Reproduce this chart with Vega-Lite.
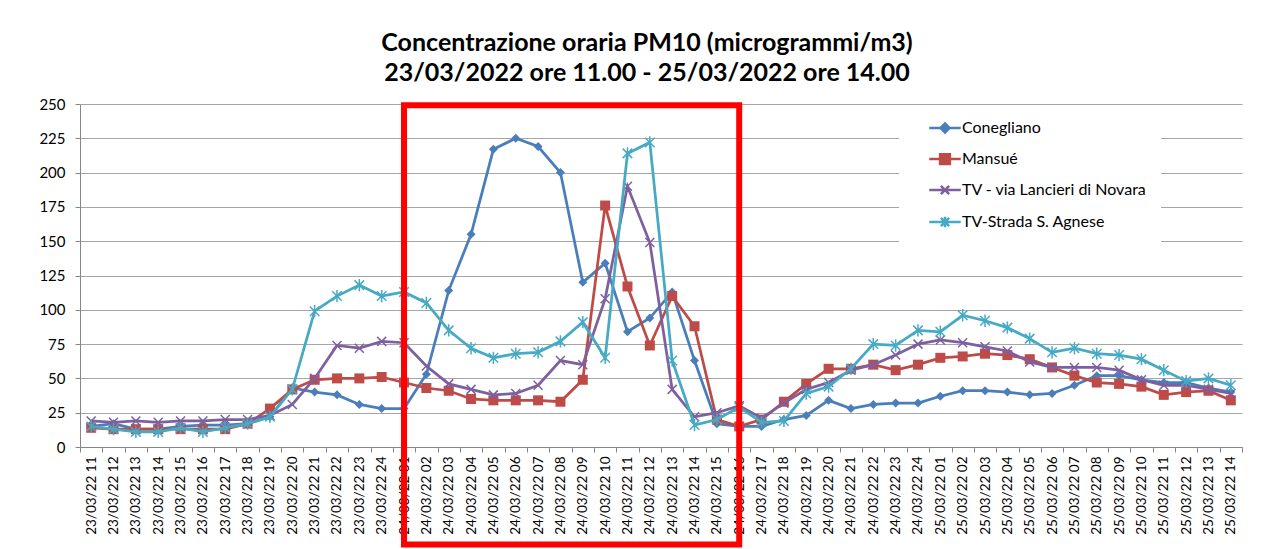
{
  "$schema": "https://vega.github.io/schema/vega-lite/v6.json",
  "width": 1162,
  "height": 343,
  "autosize": "none",
  "padding": {"left": 80, "top": 104, "right": 37, "bottom": 102},
  "background": "white",
  "title": {
    "text": ["Concentrazione oraria PM10 (microgrammi/m3)", "23/03/2022 ore 11.00 - 25/03/2022 ore 14.00"],
    "font": "Lato",
    "fontSize": 25,
    "fontWeight": "bold",
    "color": "black",
    "anchor": "middle",
    "frame": "group",
    "offset": 7,
    "lineHeight": 30,
    "dx": -14
  },
  "config": {
    "view": {"stroke": null},
    "axis": {"labelFont": "Lato", "labelColor": "black", "domainColor": "#868686", "tickColor": "#868686", "title": null}
  },
  "datasets": {
    "pm": [
      {"t":"23/03/22 11","s":"Conegliano","v":15},{"t":"23/03/22 11","s":"Mansué","v":14},{"t":"23/03/22 11","s":"TV - via Lancieri di Novara","v":19},{"t":"23/03/22 11","s":"TV-Strada S. Agnese","v":15},
      {"t":"23/03/22 12","s":"Conegliano","v":17},{"t":"23/03/22 12","s":"Mansué","v":13},{"t":"23/03/22 12","s":"TV - via Lancieri di Novara","v":18},{"t":"23/03/22 12","s":"TV-Strada S. Agnese","v":13},
      {"t":"23/03/22 13","s":"Conegliano","v":13},{"t":"23/03/22 13","s":"Mansué","v":13},{"t":"23/03/22 13","s":"TV - via Lancieri di Novara","v":19},{"t":"23/03/22 13","s":"TV-Strada S. Agnese","v":11},
      {"t":"23/03/22 14","s":"Conegliano","v":13},{"t":"23/03/22 14","s":"Mansué","v":13},{"t":"23/03/22 14","s":"TV - via Lancieri di Novara","v":18},{"t":"23/03/22 14","s":"TV-Strada S. Agnese","v":11},
      {"t":"23/03/22 15","s":"Conegliano","v":15},{"t":"23/03/22 15","s":"Mansué","v":13},{"t":"23/03/22 15","s":"TV - via Lancieri di Novara","v":19},{"t":"23/03/22 15","s":"TV-Strada S. Agnese","v":14},
      {"t":"23/03/22 16","s":"Conegliano","v":16},{"t":"23/03/22 16","s":"Mansué","v":13},{"t":"23/03/22 16","s":"TV - via Lancieri di Novara","v":19},{"t":"23/03/22 16","s":"TV-Strada S. Agnese","v":11},
      {"t":"23/03/22 17","s":"Conegliano","v":16},{"t":"23/03/22 17","s":"Mansué","v":13},{"t":"23/03/22 17","s":"TV - via Lancieri di Novara","v":20},{"t":"23/03/22 17","s":"TV-Strada S. Agnese","v":14},
      {"t":"23/03/22 18","s":"Conegliano","v":17},{"t":"23/03/22 18","s":"Mansué","v":17},{"t":"23/03/22 18","s":"TV - via Lancieri di Novara","v":20},{"t":"23/03/22 18","s":"TV-Strada S. Agnese","v":17},
      {"t":"23/03/22 19","s":"Conegliano","v":22},{"t":"23/03/22 19","s":"Mansué","v":28},{"t":"23/03/22 19","s":"TV - via Lancieri di Novara","v":23},{"t":"23/03/22 19","s":"TV-Strada S. Agnese","v":22},
      {"t":"23/03/22 20","s":"Conegliano","v":43},{"t":"23/03/22 20","s":"Mansué","v":42},{"t":"23/03/22 20","s":"TV - via Lancieri di Novara","v":31},{"t":"23/03/22 20","s":"TV-Strada S. Agnese","v":42},
      {"t":"23/03/22 21","s":"Conegliano","v":40},{"t":"23/03/22 21","s":"Mansué","v":49},{"t":"23/03/22 21","s":"TV - via Lancieri di Novara","v":50},{"t":"23/03/22 21","s":"TV-Strada S. Agnese","v":99},
      {"t":"23/03/22 22","s":"Conegliano","v":38},{"t":"23/03/22 22","s":"Mansué","v":50},{"t":"23/03/22 22","s":"TV - via Lancieri di Novara","v":74},{"t":"23/03/22 22","s":"TV-Strada S. Agnese","v":110},
      {"t":"23/03/22 23","s":"Conegliano","v":31},{"t":"23/03/22 23","s":"Mansué","v":50},{"t":"23/03/22 23","s":"TV - via Lancieri di Novara","v":72},{"t":"23/03/22 23","s":"TV-Strada S. Agnese","v":118},
      {"t":"23/03/22 24","s":"Conegliano","v":28},{"t":"23/03/22 24","s":"Mansué","v":51},{"t":"23/03/22 24","s":"TV - via Lancieri di Novara","v":77},{"t":"23/03/22 24","s":"TV-Strada S. Agnese","v":110},
      {"t":"24/03/22 01","s":"Conegliano","v":28},{"t":"24/03/22 01","s":"Mansué","v":47},{"t":"24/03/22 01","s":"TV - via Lancieri di Novara","v":76},{"t":"24/03/22 01","s":"TV-Strada S. Agnese","v":113},
      {"t":"24/03/22 02","s":"Conegliano","v":53},{"t":"24/03/22 02","s":"Mansué","v":43},{"t":"24/03/22 02","s":"TV - via Lancieri di Novara","v":59},{"t":"24/03/22 02","s":"TV-Strada S. Agnese","v":105},
      {"t":"24/03/22 03","s":"Conegliano","v":114},{"t":"24/03/22 03","s":"Mansué","v":41},{"t":"24/03/22 03","s":"TV - via Lancieri di Novara","v":46},{"t":"24/03/22 03","s":"TV-Strada S. Agnese","v":85},
      {"t":"24/03/22 04","s":"Conegliano","v":155},{"t":"24/03/22 04","s":"Mansué","v":35},{"t":"24/03/22 04","s":"TV - via Lancieri di Novara","v":42},{"t":"24/03/22 04","s":"TV-Strada S. Agnese","v":72},
      {"t":"24/03/22 05","s":"Conegliano","v":217},{"t":"24/03/22 05","s":"Mansué","v":34},{"t":"24/03/22 05","s":"TV - via Lancieri di Novara","v":38},{"t":"24/03/22 05","s":"TV-Strada S. Agnese","v":65},
      {"t":"24/03/22 06","s":"Conegliano","v":225},{"t":"24/03/22 06","s":"Mansué","v":34},{"t":"24/03/22 06","s":"TV - via Lancieri di Novara","v":39},{"t":"24/03/22 06","s":"TV-Strada S. Agnese","v":68},
      {"t":"24/03/22 07","s":"Conegliano","v":219},{"t":"24/03/22 07","s":"Mansué","v":34},{"t":"24/03/22 07","s":"TV - via Lancieri di Novara","v":45},{"t":"24/03/22 07","s":"TV-Strada S. Agnese","v":69},
      {"t":"24/03/22 08","s":"Conegliano","v":200},{"t":"24/03/22 08","s":"Mansué","v":33},{"t":"24/03/22 08","s":"TV - via Lancieri di Novara","v":63},{"t":"24/03/22 08","s":"TV-Strada S. Agnese","v":77},
      {"t":"24/03/22 09","s":"Conegliano","v":120},{"t":"24/03/22 09","s":"Mansué","v":49},{"t":"24/03/22 09","s":"TV - via Lancieri di Novara","v":60},{"t":"24/03/22 09","s":"TV-Strada S. Agnese","v":91},
      {"t":"24/03/22 10","s":"Conegliano","v":134},{"t":"24/03/22 10","s":"Mansué","v":176},{"t":"24/03/22 10","s":"TV - via Lancieri di Novara","v":108},{"t":"24/03/22 10","s":"TV-Strada S. Agnese","v":65},
      {"t":"24/03/22 11","s":"Conegliano","v":84},{"t":"24/03/22 11","s":"Mansué","v":117},{"t":"24/03/22 11","s":"TV - via Lancieri di Novara","v":190},{"t":"24/03/22 11","s":"TV-Strada S. Agnese","v":214},
      {"t":"24/03/22 12","s":"Conegliano","v":94},{"t":"24/03/22 12","s":"Mansué","v":74},{"t":"24/03/22 12","s":"TV - via Lancieri di Novara","v":149},{"t":"24/03/22 12","s":"TV-Strada S. Agnese","v":222},
      {"t":"24/03/22 13","s":"Conegliano","v":113},{"t":"24/03/22 13","s":"Mansué","v":110},{"t":"24/03/22 13","s":"TV - via Lancieri di Novara","v":42},{"t":"24/03/22 13","s":"TV-Strada S. Agnese","v":63},
      {"t":"24/03/22 14","s":"Conegliano","v":63},{"t":"24/03/22 14","s":"Mansué","v":88},{"t":"24/03/22 14","s":"TV - via Lancieri di Novara","v":22},{"t":"24/03/22 14","s":"TV-Strada S. Agnese","v":16},
      {"t":"24/03/22 15","s":"Conegliano","v":17},{"t":"24/03/22 15","s":"Mansué","v":20},{"t":"24/03/22 15","s":"TV - via Lancieri di Novara","v":25},{"t":"24/03/22 15","s":"TV-Strada S. Agnese","v":20},
      {"t":"24/03/22 16","s":"Conegliano","v":15},{"t":"24/03/22 16","s":"Mansué","v":15},{"t":"24/03/22 16","s":"TV - via Lancieri di Novara","v":30},{"t":"24/03/22 16","s":"TV-Strada S. Agnese","v":29},
      {"t":"24/03/22 17","s":"Conegliano","v":15},{"t":"24/03/22 17","s":"Mansué","v":20},{"t":"24/03/22 17","s":"TV - via Lancieri di Novara","v":21},{"t":"24/03/22 17","s":"TV-Strada S. Agnese","v":18},
      {"t":"24/03/22 18","s":"Conegliano","v":20},{"t":"24/03/22 18","s":"Mansué","v":33},{"t":"24/03/22 18","s":"TV - via Lancieri di Novara","v":32},{"t":"24/03/22 18","s":"TV-Strada S. Agnese","v":19},
      {"t":"24/03/22 19","s":"Conegliano","v":23},{"t":"24/03/22 19","s":"Mansué","v":46},{"t":"24/03/22 19","s":"TV - via Lancieri di Novara","v":42},{"t":"24/03/22 19","s":"TV-Strada S. Agnese","v":39},
      {"t":"24/03/22 20","s":"Conegliano","v":34},{"t":"24/03/22 20","s":"Mansué","v":57},{"t":"24/03/22 20","s":"TV - via Lancieri di Novara","v":47},{"t":"24/03/22 20","s":"TV-Strada S. Agnese","v":44},
      {"t":"24/03/22 21","s":"Conegliano","v":28},{"t":"24/03/22 21","s":"Mansué","v":57},{"t":"24/03/22 21","s":"TV - via Lancieri di Novara","v":56},{"t":"24/03/22 21","s":"TV-Strada S. Agnese","v":57},
      {"t":"24/03/22 22","s":"Conegliano","v":31},{"t":"24/03/22 22","s":"Mansué","v":60},{"t":"24/03/22 22","s":"TV - via Lancieri di Novara","v":60},{"t":"24/03/22 22","s":"TV-Strada S. Agnese","v":75},
      {"t":"24/03/22 23","s":"Conegliano","v":32},{"t":"24/03/22 23","s":"Mansué","v":56},{"t":"24/03/22 23","s":"TV - via Lancieri di Novara","v":67},{"t":"24/03/22 23","s":"TV-Strada S. Agnese","v":74},
      {"t":"24/03/22 24","s":"Conegliano","v":32},{"t":"24/03/22 24","s":"Mansué","v":60},{"t":"24/03/22 24","s":"TV - via Lancieri di Novara","v":75},{"t":"24/03/22 24","s":"TV-Strada S. Agnese","v":85},
      {"t":"25/03/22 01","s":"Conegliano","v":37},{"t":"25/03/22 01","s":"Mansué","v":65},{"t":"25/03/22 01","s":"TV - via Lancieri di Novara","v":78},{"t":"25/03/22 01","s":"TV-Strada S. Agnese","v":84},
      {"t":"25/03/22 02","s":"Conegliano","v":41},{"t":"25/03/22 02","s":"Mansué","v":66},{"t":"25/03/22 02","s":"TV - via Lancieri di Novara","v":76},{"t":"25/03/22 02","s":"TV-Strada S. Agnese","v":96},
      {"t":"25/03/22 03","s":"Conegliano","v":41},{"t":"25/03/22 03","s":"Mansué","v":68},{"t":"25/03/22 03","s":"TV - via Lancieri di Novara","v":73},{"t":"25/03/22 03","s":"TV-Strada S. Agnese","v":92},
      {"t":"25/03/22 04","s":"Conegliano","v":40},{"t":"25/03/22 04","s":"Mansué","v":67},{"t":"25/03/22 04","s":"TV - via Lancieri di Novara","v":70},{"t":"25/03/22 04","s":"TV-Strada S. Agnese","v":87},
      {"t":"25/03/22 05","s":"Conegliano","v":38},{"t":"25/03/22 05","s":"Mansué","v":64},{"t":"25/03/22 05","s":"TV - via Lancieri di Novara","v":62},{"t":"25/03/22 05","s":"TV-Strada S. Agnese","v":79},
      {"t":"25/03/22 06","s":"Conegliano","v":39},{"t":"25/03/22 06","s":"Mansué","v":58},{"t":"25/03/22 06","s":"TV - via Lancieri di Novara","v":58},{"t":"25/03/22 06","s":"TV-Strada S. Agnese","v":69},
      {"t":"25/03/22 07","s":"Conegliano","v":45},{"t":"25/03/22 07","s":"Mansué","v":52},{"t":"25/03/22 07","s":"TV - via Lancieri di Novara","v":58},{"t":"25/03/22 07","s":"TV-Strada S. Agnese","v":72},
      {"t":"25/03/22 08","s":"Conegliano","v":52},{"t":"25/03/22 08","s":"Mansué","v":47},{"t":"25/03/22 08","s":"TV - via Lancieri di Novara","v":58},{"t":"25/03/22 08","s":"TV-Strada S. Agnese","v":68},
      {"t":"25/03/22 09","s":"Conegliano","v":52},{"t":"25/03/22 09","s":"Mansué","v":46},{"t":"25/03/22 09","s":"TV - via Lancieri di Novara","v":56},{"t":"25/03/22 09","s":"TV-Strada S. Agnese","v":67},
      {"t":"25/03/22 10","s":"Conegliano","v":49},{"t":"25/03/22 10","s":"Mansué","v":44},{"t":"25/03/22 10","s":"TV - via Lancieri di Novara","v":49},{"t":"25/03/22 10","s":"TV-Strada S. Agnese","v":64},
      {"t":"25/03/22 11","s":"Conegliano","v":47},{"t":"25/03/22 11","s":"Mansué","v":38},{"t":"25/03/22 11","s":"TV - via Lancieri di Novara","v":45},{"t":"25/03/22 11","s":"TV-Strada S. Agnese","v":56},
      {"t":"25/03/22 12","s":"Conegliano","v":47},{"t":"25/03/22 12","s":"Mansué","v":40},{"t":"25/03/22 12","s":"TV - via Lancieri di Novara","v":45},{"t":"25/03/22 12","s":"TV-Strada S. Agnese","v":48},
      {"t":"25/03/22 13","s":"Conegliano","v":43},{"t":"25/03/22 13","s":"Mansué","v":41},{"t":"25/03/22 13","s":"TV - via Lancieri di Novara","v":42},{"t":"25/03/22 13","s":"TV-Strada S. Agnese","v":50},
      {"t":"25/03/22 14","s":"Conegliano","v":40},{"t":"25/03/22 14","s":"Mansué","v":34},{"t":"25/03/22 14","s":"TV - via Lancieri di Novara","v":39},{"t":"25/03/22 14","s":"TV-Strada S. Agnese","v":45}
    ],
    "box": [
      {"t":"24/03/22 01","v":249,"o":1},
      {"t":"24/03/22 16","v":249,"o":2},
      {"t":"24/03/22 16","v":-71,"o":3},
      {"t":"24/03/22 01","v":-71,"o":4},
      {"t":"24/03/22 01","v":249,"o":5}
    ]
  },
  "data": {"name": "pm"},
  "encoding": {
    "x": {
      "field": "t", "type": "ordinal", "bandPosition": 0.5,
      "scale": {"type": "band", "paddingInner": 0, "paddingOuter": 0},
      "axis": {"labelAngle": -90, "labelAlign": "right", "labelBaseline": "middle", "tickBand": "extent", "tickSize": 5, "labelPadding": 4, "grid": false, "labelFontSize": 13.5, "labelOverlap": false}
    },
    "y": {
      "field": "v", "type": "quantitative",
      "scale": {"domain": [0, 250], "nice": false, "zero": false},
      "axis": {"values": [0,25,50,75,100,125,150,175,200,225,250], "tickSize": 5, "labelPadding": 10, "labelFontSize": 15, "grid": true, "gridColor": "#A6A6A6", "gridWidth": 1}
    }
  },
  "layer": [
    {
      "transform": [{"filter": {"field": "s", "equal": "Conegliano"}}],
      "mark": {"type": "line", "strokeWidth": 2.75, "point": {"shape": "diamond", "filled": true, "size": 81}},
      "encoding": {"color": {"field": "s", "type": "nominal",
        "scale": {"domain": ["Conegliano", "Mansué", "TV - via Lancieri di Novara", "TV-Strada S. Agnese"], "range": ["#4A7EBB", "#BE4B48", "#7D60A0", "#46AAC5"]},
        "legend": {
          "title": null, "orient": "none", "legendX": 819, "legendY": 1,
          "fillColor": "white", "padding": 14,
          "labelFont": "Lato", "labelFontSize": 16, "labelColor": "black", "labelLimit": 400,
          "symbolSize": 225, "rowPadding": 11, "symbolOffset": 23, "labelOffset": 8,
          "encode": {"symbols": {"update": {
            "shape": {"signal": "datum.value === 'Conegliano' ? 'M-2.1,0H2.1M0,-0.6L0.6,0L0,0.6L-0.6,0Z' : datum.value === 'Mansué' ? 'M-2.1,0H2.1M-0.65,-0.65H0.65V0.65H-0.65Z' : datum.value === 'TV - via Lancieri di Novara' ? 'M-2.1,0H2.1M-0.55,-0.55L0.55,0.55M-0.55,0.55L0.55,-0.55' : 'M-2.1,0H2.1M-0.55,-0.55L0.55,0.55M-0.55,0.55L0.55,-0.55M0,-0.7V0.7'"},
            "strokeWidth": {"value": 2.5},
            "fill": {"scale": "color", "field": "value"},
            "stroke": {"scale": "color", "field": "value"},
            "opacity": {"value": 1},
            "fillOpacity": {"value": 1},
            "strokeOpacity": {"value": 1}
          }}}
        }}}
    },
    {
      "transform": [{"filter": {"field": "s", "equal": "Mansué"}}],
      "mark": {"type": "line", "strokeWidth": 2.75, "point": {"shape": "square", "filled": true, "size": 100}},
      "encoding": {"color": {"field": "s", "type": "nominal"}}
    },
    {
      "transform": [{"filter": {"field": "s", "equal": "TV - via Lancieri di Novara"}}],
      "mark": {"type": "line", "strokeWidth": 2.75, "point": {"shape": "M-1,-1L1,1M-1,1L1,-1", "filled": false, "size": 81, "strokeWidth": 1.5}},
      "encoding": {"color": {"field": "s", "type": "nominal"}}
    },
    {
      "transform": [{"filter": {"field": "s", "equal": "TV-Strada S. Agnese"}}],
      "mark": {"type": "line", "strokeWidth": 2.75, "point": {"shape": "M-1,-1L1,1M-1,1L1,-1M0,-1.3V1.3", "filled": false, "size": 90, "strokeWidth": 1.5}},
      "encoding": {"color": {"field": "s", "type": "nominal"}}
    },
    {
      "data": {"name": "box"},
      "mark": {"type": "line", "stroke": "#FF0000", "strokeWidth": 6, "strokeJoin": "miter", "strokeCap": "square"},
      "encoding": {"order": {"field": "o", "type": "quantitative"}}
    }
  ]
}
